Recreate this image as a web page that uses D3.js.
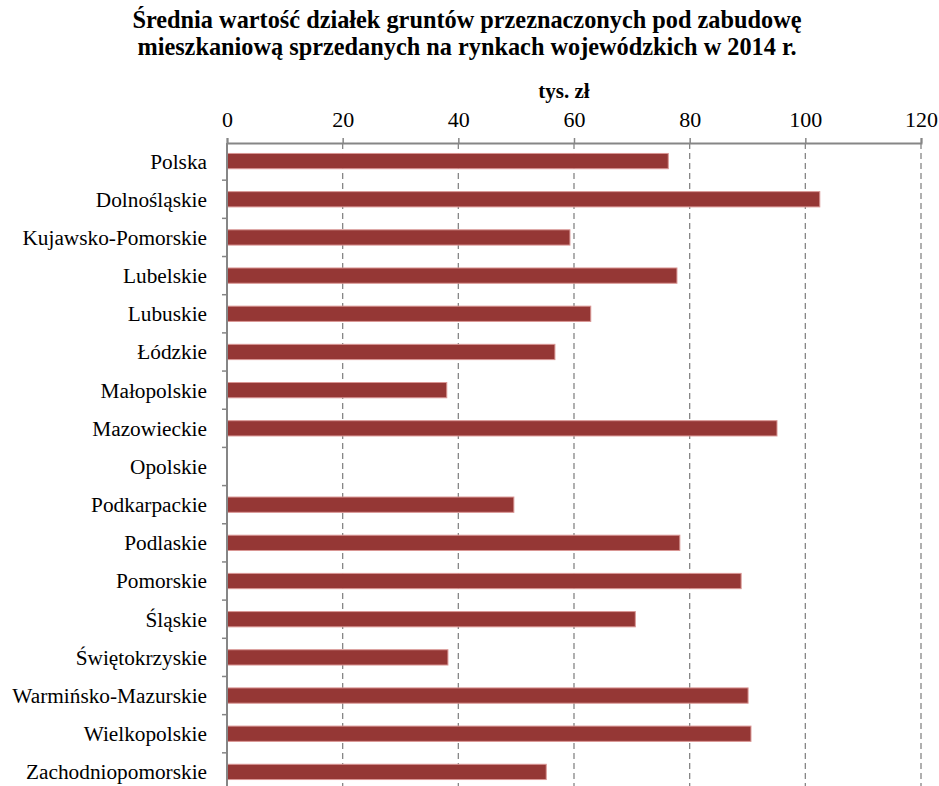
<!DOCTYPE html>
<html><head><meta charset="utf-8">
<script src="https://cdn.jsdelivr.net/npm/d3@7"></script>
<style>body{margin:0;background:#fff}svg{display:block}</style>
</head><body>
<svg id="c" width="939" height="786"></svg>
<script>
const categories = ["Polska","Dolnośląskie","Kujawsko-Pomorskie","Lubelskie","Lubuskie","Łódzkie","Małopolskie","Mazowieckie","Opolskie","Podkarpackie","Podlaskie","Pomorskie","Śląskie","Świętokrzyskie","Warmińsko-Mazurskie","Wielkopolskie","Zachodniopomorskie"];
const values = [76.3,102.5,59.3,77.8,62.9,56.7,38.0,95.1,0,49.6,78.3,88.9,70.6,38.2,90.1,90.6,55.2];
const xTicks = [0,20,40,60,80,100,120];
const titleLines = ["Średnia wartość działek gruntów przeznaczonych pod zabudowę","mieszkaniową sprzedanych na rynkach wojewódzkich w 2014 r."];
const unitLabel = "tys. zł";

const svg = d3.select("#c");
const font = "'Liberation Serif','Times New Roman',serif";
const x = d3.scaleLinear().domain([0,120]).range([227,921]);
const y = d3.scaleBand().domain(categories).range([142,791]).paddingInner(0.6).paddingOuter(0.3);
const step = y.step();

// title
svg.append("g").selectAll("text").data(titleLines).join("text")
  .attr("x",467).attr("y",(d,i)=>28+i*27).attr("text-anchor","middle")
  .attr("font-family",font).attr("font-weight","bold").attr("font-size",24.3).attr("fill","#000").text(d=>d);

svg.append("text").attr("x",564).attr("y",98).attr("text-anchor","middle")
  .attr("font-family",font).attr("font-weight","bold").attr("font-size",21).text(unitLabel);

// gridlines
svg.append("g").selectAll("line").data(xTicks.slice(1)).join("line")
  .attr("x1",d=>x(d)).attr("x2",d=>x(d)).attr("y1",143).attr("y2",791)
  .attr("stroke","#868686").attr("stroke-width",1.3).attr("stroke-dasharray","6,4");

// top axis
const gx = svg.append("g").attr("transform","translate(0,143)")
  .call(d3.axisTop(x).tickValues(xTicks).tickSize(5).tickPadding(11).tickFormat(d3.format("d")));
gx.select(".domain").attr("stroke","#868686").attr("stroke-width",2);
gx.selectAll(".tick line").attr("stroke","#868686").attr("stroke-width",1.5);
gx.selectAll("text").attr("font-family",font).attr("font-size",22).attr("fill","#000");

// bars
svg.append("g").selectAll("rect").data(categories).join("rect")
  .attr("x",x(0)).attr("y",d=>y(d))
  .attr("width",(d,i)=>x(values[i])-x(0)).attr("height",y.bandwidth())
  .attr("fill","#953735").attr("stroke",(d,i)=>values[i]>0?"#d99694":"none").attr("stroke-width",1);

// left axis
const ly = svg.append("g").attr("transform","translate(227,0)");
ly.append("line").attr("x1",0).attr("x2",0).attr("y1",143).attr("y2",791).attr("stroke","#868686").attr("stroke-width",2);
const bounds = d3.range(categories.length+1).map(i=>142+i*step);
ly.selectAll("line.t").data(bounds.slice(1)).join("line").attr("class","t")
  .attr("x1",-5).attr("x2",0).attr("y1",d=>d).attr("y2",d=>d).attr("stroke","#868686").attr("stroke-width",1.5);
ly.selectAll("text").data(categories).join("text")
  .attr("x",-20).attr("y",d=>y(d)+y.bandwidth()/2).attr("dy","0.35em").attr("text-anchor","end")
  .attr("font-family",font).attr("font-size",21.3).attr("fill","#000").text(d=>d);
</script>
</body></html>
